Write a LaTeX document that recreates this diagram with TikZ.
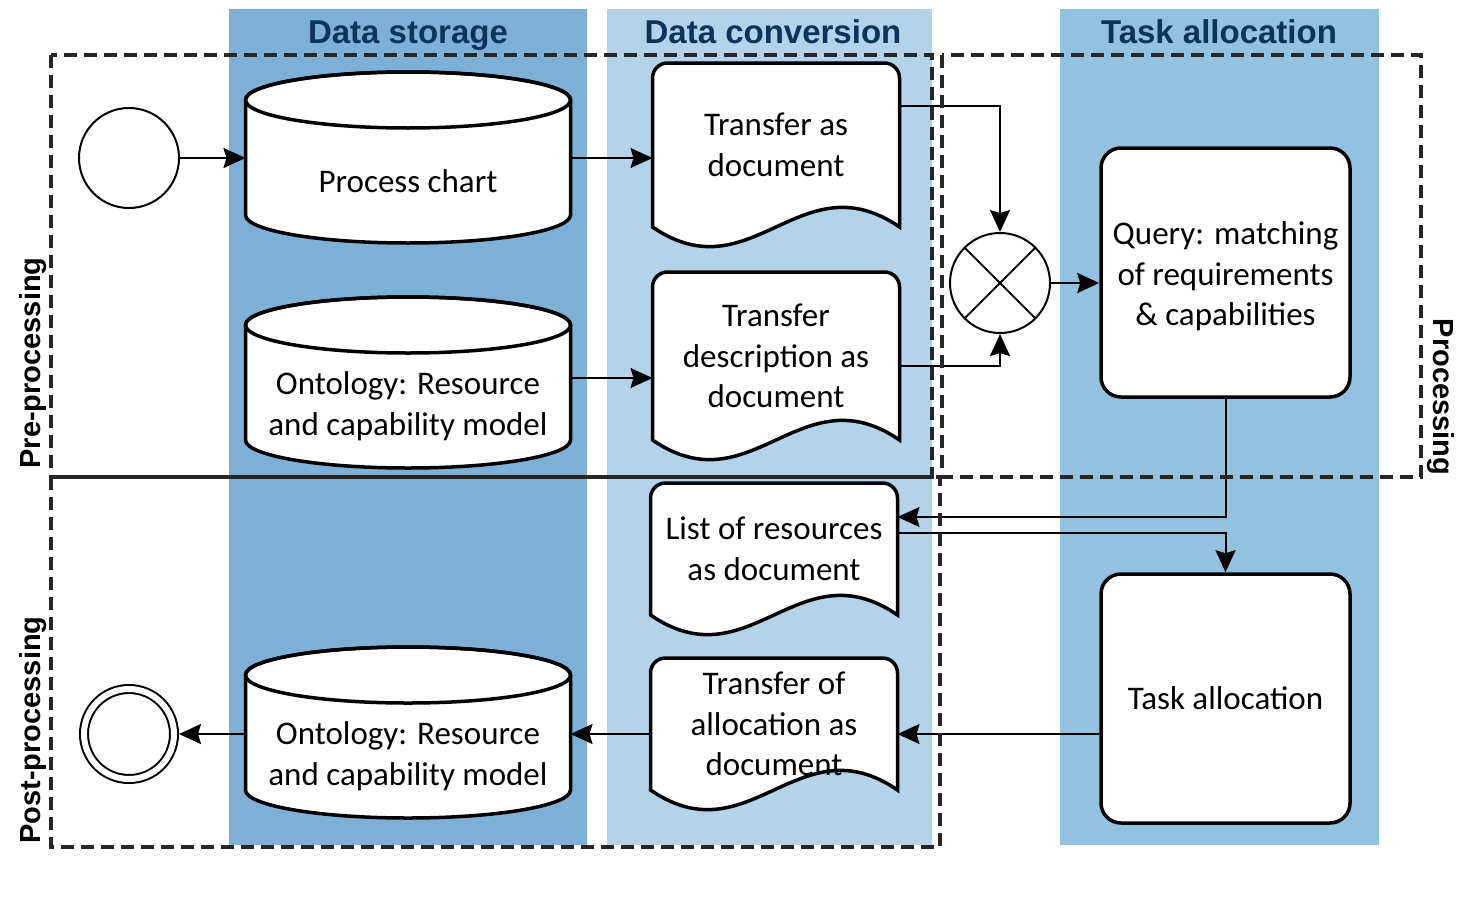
\documentclass[tikz,border=0pt]{standalone}
\usepackage{fontspec}
\setmainfont{Carlito}
\newfontfamily\headfont{Liberation Sans}
\usetikzlibrary{arrows.meta}

\definecolor{storeblue}{RGB}{126,176,214}
\definecolor{convblue}{RGB}{179,211,234}
\definecolor{taskblue}{RGB}{146,194,224}
\definecolor{headblue}{RGB}{12,52,90}
\definecolor{dashgray}{RGB}{38,38,38}

\begin{document}
\begin{tikzpicture}[x=1pt,y=-1pt,
    font=\fontsize{33}{40.5}\selectfont,
    flow/.style={line width=2pt,-{Stealth[length=22pt,width=20pt,inset=3pt]}},
    phase/.style={dashgray,line width=3.5pt,dash pattern=on 13pt off 7pt},
    lanehead/.style={font=\headfont\bfseries\fontsize{33}{38}\selectfont,text=headblue,anchor=base},
    phasehead/.style={font=\headfont\bfseries\fontsize{29}{34}\selectfont,anchor=base},
    event/.style={draw,circle,line width=2pt,minimum size=100pt,inner sep=0pt,fill=white},
    stopevt/.style={event,minimum size=90pt,double,double distance=6pt,outer sep=5pt},
    gateway/.style={event,path picture={
        \draw[line width=2pt] (path picture bounding box.north west) -- (path picture bounding box.south east)
          (path picture bounding box.north east) -- (path picture bounding box.south west);}},
    task/.style={draw,fill=white,line width=3.5pt,rounded corners=20pt,
        minimum width=249pt,minimum height=249pt,inner sep=0pt,align=center},
    datastore/.style={minimum width=325pt,minimum height=100pt,inner sep=0pt,outer sep=0pt,align=center,
      append after command={\pgfextra{
        \filldraw[fill=white,line width=3.5pt]
          ([yshift=31pt]\tikzlastnode.north west) -- ([yshift=16pt]\tikzlastnode.south west)
          arc[start angle=180,end angle=360,x radius=162.5pt,y radius=28pt]
          -- ([yshift=31pt]\tikzlastnode.north east)
          arc[start angle=0,end angle=180,x radius=162.5pt,y radius=28pt] -- cycle;
        \draw[line width=3.5pt] ([yshift=31pt]\tikzlastnode.north) ellipse[x radius=162.5pt,y radius=28pt];
      }}},
    doc/.style={minimum width=247pt,minimum height=#1,inner sep=0pt,outer sep=0pt,align=center,
      append after command={\pgfextra{
        \filldraw[fill=white,line width=3.5pt]
          (\tikzlastnode.south west) -- ([yshift=-15pt]\tikzlastnode.north west)
          arc[start angle=180,end angle=90,radius=15pt]
          -- ([xshift=-15pt]\tikzlastnode.north east)
          arc[start angle=90,end angle=0,radius=15pt]
          -- (\tikzlastnode.south east) .. controls +(-99,-68) and +(99,68) .. (\tikzlastnode.south west) -- cycle;
      }}}]

    \useasboundingbox (0,0) rectangle (1474,910);

    % lanes
    \fill[storeblue] (229,9) rectangle (587,845);
    \fill[convblue] (607,9) rectangle (932,845);
    \fill[taskblue] (1060,9) rectangle (1379,845);

    \node[lanehead] (hstore) at (408,43) {Data storage};
    \node[lanehead] (hconv) at (773,43) {Data conversion};
    \node[lanehead] (htask) at (1219,43) {Task allocation};

    % events, stores, documents, tasks
    \node[event] (start) at (129,158) {};
    \node[datastore] (pc) at (408,181) {Process chart};
    \node[datastore] (ont1) at (408,406) {Ontology: Resource\\and capability model};
    \node[datastore] (ont2) at (408,756) {Ontology: Resource\\and capability model};
    \node[stopevt] (stop) at (129,734) {};

    \node[doc=164pt] (tad) at (776,145) {Transfer as\\document};
    \node[doc=168pt] (tdd) at (776,356) {Transfer\\description as\\document};
    \node[doc=132pt] (lrd) at (774,549) {List of resources\\as document};
    \node[doc=132pt] (tod) at (774,724) {Transfer of\\allocation as\\document};

    \node[gateway] (gw) at (1000,283) {};
    \node[task] (qry) at (1225.5,272.5) {\\[-10pt]Query: matching\\of requirements\\\& capabilities};
    \node[task] (tsk) at (1225.5,698.5) {Task allocation};

    % flows
    \draw[flow] (start) -- (start -| pc.west);
    \draw[flow] (pc.east |- start) -- (start -| tad.west);
    \draw[flow] ([yshift=28pt]ont1.east) -- ([yshift=28pt]ont1.east -| tdd.west);
    \draw[flow] ([yshift=39pt]tad.east) -| (gw.north);
    \draw[flow] ([yshift=-10pt]tdd.east) -| (gw.south);
    \draw[flow] (gw.east) -- (gw -| qry.west);
    \draw[flow] (qry.south) |- ([yshift=32pt]lrd.east);
    \draw[flow] ([yshift=16pt]lrd.east) -| (tsk.north);
    \draw[flow] (tsk.west |- stop) -- (stop -| tod.east);
    \draw[flow] (tod.west |- stop) -- (stop -| ont2.east);
    \draw[flow] (ont2.west |- stop) -- (stop);

    % phases
    \draw[phase] (51,55) rectangle (932,477);
    \draw[phase] (51,477) rectangle (940,847);
    \draw[phase] (942,55) rectangle (1421,477);
    \draw[line width=3pt,dashgray] (51,477) -- (932,477);

    \node[phasehead,rotate=90] (hpre) at (40,363) {Pre-processing};
    \node[phasehead,rotate=90] (hpost) at (40,730) {Post-processing};
    \node[phasehead,rotate=-90] (hproc) at (1433,397) {Processing};
\end{tikzpicture}
\end{document}
